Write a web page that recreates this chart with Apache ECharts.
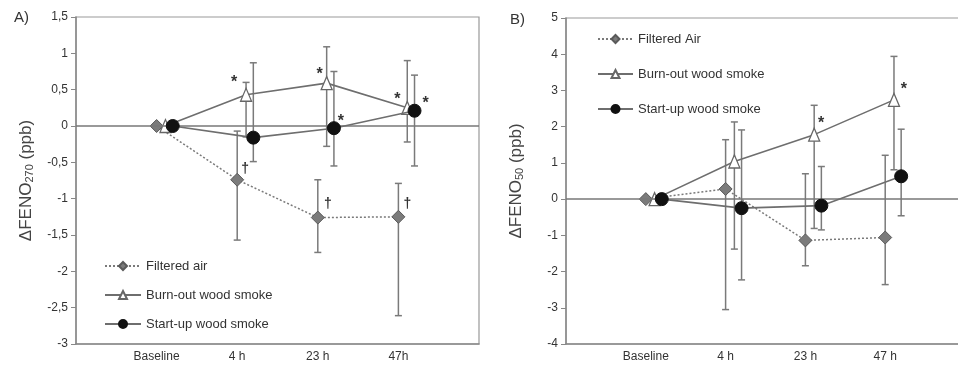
<!DOCTYPE html>
<html><head><meta charset="utf-8">
<script src="https://cdn.jsdelivr.net/npm/echarts@6/dist/echarts.min.js"></script>
<style>html,body{margin:0;padding:0;background:#fff}#c{width:958px;height:366px}</style>
</head><body><div id="c"></div>
<script>
// ---------- data ----------
const categoriesA = ['Baseline', '4 h', '23 h', '47h'];
const categoriesB = ['Baseline', '4 h', '23 h', '47 h'];
const yTicksA = [-3, 1.5, 0.5];   // min, max, interval
const yTicksB = [-4, 5, 1];

const namesA = ['Filtered air', 'Burn-out wood smoke', 'Start-up wood smoke'];
const namesB = ['Filtered Air', 'Burn-out wood smoke', 'Start-up wood smoke'];

// Panel A: ΔFENO270
const A_filtered     = [0, -0.74, -1.26, -1.25];
const A_filteredLow  = [0, -1.57, -1.74, -2.61];
const A_filteredHigh = [0, -0.07, -0.74, -0.79];
const A_burn         = [0, 0.43, 0.59, 0.25];
const A_burnLow      = [0, -0.15, -0.28, -0.22];
const A_burnHigh     = [0, 0.60, 1.09, 0.90];
const A_start        = [0, -0.16, -0.03, 0.21];
const A_startLow     = [0, -0.49, -0.55, -0.55];
const A_startHigh    = [0, 0.87, 0.75, 0.70];
const A_filteredSig  = ['', '\u2020', '\u2020', '\u2020'];
const A_burnSig      = ['', '*', '*', '*'];
const A_startSig     = ['', '', '*', '*'];

// Panel B: ΔFENO50
const B_filtered     = [0, 0.28, -1.14, -1.06];
const B_filteredLow  = [0, -3.05, -1.84, -2.36];
const B_filteredHigh = [0, 1.64, 0.70, 1.21];
const B_burn         = [0, 1.04, 1.78, 2.74];
const B_burnLow      = [0, -1.38, -0.81, 0.81];
const B_burnHigh     = [0, 2.13, 2.59, 3.94];
const B_start        = [0, -0.25, -0.18, 0.63];
const B_startLow     = [0, -2.23, -0.85, -0.46];
const B_startHigh    = [0, 1.91, 0.90, 1.93];
const B_filteredSig  = ['', '', '', ''];
const B_burnSig      = ['', '', '*', '*'];
const B_startSig     = ['', '', '', ''];

// ---------- styling / layout ----------
const FONT = '"Liberation Sans", Arial, sans-serif';
const TXT = '#333';
const GRAY = '#6e6e6e';
const dodge = [0, 0.11, 0.2];   // horizontal dodge of the three groups

// annotation offsets (px) per series per point
const sigOffA = [
  [null, [8, -11], [10, -13], [9, -13]],
  [null, [-12, -12], [-7, -9], [-10, -8]],
  [null, null, [7, -7], [11, -7]]
];
const sigOffB = [
  [null, null, null, null],
  [null, null, [7, -11], [10, -10]],
  [null, null, null, null]
];

const seriesStyle = [
  { symbol: 'diamond', symbolSize: 13, itemStyle: { color: '#7b7b7b', borderColor: '#5a5a5a', borderWidth: 1 },
    lineStyle: { color: '#7a7a7a', width: 1.5, type: [2, 2] } },
  { symbol: 'triangle', symbolSize: [11, 13], itemStyle: { color: '#fff', borderColor: '#666', borderWidth: 1.3 },
    lineStyle: { color: GRAY, width: 1.6, type: 'solid' } },
  { symbol: 'circle', symbolSize: 13, itemStyle: { color: '#111', borderColor: '#111', borderWidth: 1 },
    lineStyle: { color: GRAY, width: 1.6, type: 'solid' } }
];

function errRender(params, api) {
  const x = api.value(0), lo = api.value(1), hi = api.value(2);
  if (lo === hi) return null;
  const p1 = api.coord([x, hi]), p2 = api.coord([x, lo]);
  const w = 3.5;
  const st = { stroke: '#7a7a7a', lineWidth: 1.5 };
  return { type: 'group', children: [
    { type: 'line', shape: { x1: p1[0], y1: p1[1], x2: p2[0], y2: p2[1] }, style: st },
    { type: 'line', shape: { x1: p1[0] - w, y1: p1[1], x2: p1[0] + w, y2: p1[1] }, style: st },
    { type: 'line', shape: { x1: p2[0] - w, y1: p2[1], x2: p2[0] + w, y2: p2[1] }, style: st }
  ]};
}

function buildPanel(idx, names, vals, lows, highs, sigs, offs) {
  const out = [];
  for (let s = 0; s < 3; s++) {
    out.push({
      type: 'custom', xAxisIndex: idx, yAxisIndex: idx, z: 1, silent: true, clip: false,
      renderItem: errRender,
      encode: { x: 0, y: [1, 2] },
      data: vals[s].map((v, i) => [i + 1 + dodge[s], lows[s][i], highs[s][i]])
    });
  }
  for (let s = 0; s < 3; s++) {
    const st = seriesStyle[s];
    const line = {
      type: 'line', name: names[s], xAxisIndex: idx, yAxisIndex: idx, z: 3 + s,
      symbol: st.symbol, symbolSize: st.symbolSize, itemStyle: st.itemStyle, lineStyle: st.lineStyle,
      showAllSymbol: true, animation: false, silent: true,
      data: vals[s].map((v, i) => {
        const item = { value: [i + 1 + dodge[s], v] };
        if (sigs[s][i]) {
          const isStar = sigs[s][i] === '*';
          item.label = { show: true, formatter: sigs[s][i], position: 'inside', offset: offs[s][i],
            fontSize: isStar ? 16 : 14, fontFamily: FONT, color: '#333', fontWeight: 'bold' };
        }
        return item;
      })
    };
    if (s === 2) {
      line.markLine = { silent: true, symbol: 'none', animation: false, label: { show: false },
        lineStyle: { color: '#777', width: 1.5, type: 'solid' }, data: [{ yAxis: 0 }] };
    }
    out.push(line);
  }
  return out;
}

function yAxisCfg(idx, ticks, sub) {
  return {
    type: 'value', gridIndex: idx, min: ticks[0], max: ticks[1], interval: ticks[2],
    splitLine: { show: false },
    axisLine: { show: true, lineStyle: { color: '#888', width: 1.5 } },
    axisTick: { show: true, length: 5, lineStyle: { color: '#888' } },
    axisLabel: { color: TXT, fontSize: 12, fontFamily: FONT, margin: 8,
      formatter: v => String(+v.toFixed(2)).replace('.', ',') },
    name: '{a|\u0394FENO}{s|' + sub + '}{a| (ppb)}',
    nameLocation: 'middle', nameGap: 41, nameRotate: 90,
    nameTextStyle: { rich: {
      a: { fontSize: 17, fontFamily: FONT, color: '#444' },
      s: { fontSize: 11, fontFamily: FONT, color: '#444', padding: [7, 0, 0, 0] }
    } }
  };
}

function xAxisCfg(idx, cats) {
  return {
    type: 'value', gridIndex: idx, min: 0, max: 5, interval: 1,
    splitLine: { show: false },
    axisLine: { show: true, onZero: false, lineStyle: { color: '#888', width: 1.5 } },
    axisTick: { show: false },
    axisLabel: { color: TXT, fontSize: 12, fontFamily: FONT, margin: 7,
      formatter: v => (v >= 1 && v <= cats.length) ? cats[v - 1] : '' }
  };
}

const chart = echarts.init(document.getElementById('c'), null, { renderer: 'canvas' });
chart.setOption({
  animation: false,
  backgroundColor: '#fff',
  title: [
    { text: 'A)', left: 9, top: 5, textStyle: { fontSize: 15, fontWeight: 'normal', color: '#333', fontFamily: FONT } },
    { text: 'B)', left: 505, top: 7, textStyle: { fontSize: 15, fontWeight: 'normal', color: '#333', fontFamily: FONT } }
  ],
  grid: [
    { left: 76, top: 17, width: 403, height: 327, show: true, borderColor: '#999', borderWidth: 1.2,
      backgroundColor: 'transparent', outerBoundsMode: 'none', containLabel: false },
    { left: 566, top: 18, width: 399, height: 326, show: true, borderColor: '#999', borderWidth: 1.2,
      backgroundColor: 'transparent', outerBoundsMode: 'none', containLabel: false }
  ],
  xAxis: [xAxisCfg(0, categoriesA), xAxisCfg(1, categoriesB)],
  yAxis: [yAxisCfg(0, yTicksA, '270'), yAxisCfg(1, yTicksB, '50')],
  legend: [
    { data: namesA, orient: 'vertical', left: 99, top: 254, itemWidth: 36, itemHeight: 10, itemGap: 15,
      textStyle: { fontSize: 13, fontFamily: FONT, color: '#333', lineHeight: 14 }, selectedMode: false },
    { data: namesB, orient: 'vertical', left: 592, top: 27, itemWidth: 35, itemHeight: 10, itemGap: 21,
      textStyle: { fontSize: 13, fontFamily: FONT, color: '#333', lineHeight: 14 }, selectedMode: false }
  ],
  series: [
    ...buildPanel(0, namesA,
      [A_filtered, A_burn, A_start],
      [A_filteredLow, A_burnLow, A_startLow],
      [A_filteredHigh, A_burnHigh, A_startHigh],
      [A_filteredSig, A_burnSig, A_startSig], sigOffA),
    ...buildPanel(1, namesB,
      [B_filtered, B_burn, B_start],
      [B_filteredLow, B_burnLow, B_startLow],
      [B_filteredHigh, B_burnHigh, B_startHigh],
      [B_filteredSig, B_burnSig, B_startSig], sigOffB)
  ]
});
</script></body></html>
